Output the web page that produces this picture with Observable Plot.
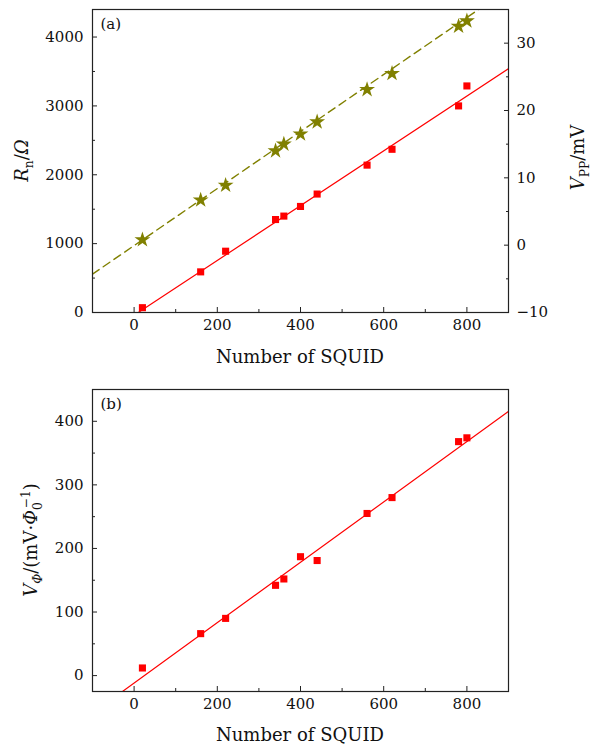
<!DOCTYPE html>
<html><head><meta charset="utf-8">
<script src="https://cdn.jsdelivr.net/npm/d3@7"></script>
<script src="https://cdn.jsdelivr.net/npm/@observablehq/plot@0.6"></script>
<style>
body{margin:0;background:#fff;}
#c svg{display:block;}
</style></head><body><div id="c"></div>
<script>
// ---- data ----
const nSquid = [20, 160, 220, 340, 360, 400, 440, 560, 620, 780, 800];
const rn     = [70, 590, 890, 1350, 1400, 1540, 1720, 2140, 2370, 3000, 3290];   // Ω
const vpp    = [0.8, 6.7, 8.9, 14.0, 15.0, 16.5, 18.3, 23.1, 25.5, 32.5, 33.3]; // mV
const vphi   = [12, 66, 90, 142, 152, 187, 181, 255, 280, 368, 374];           // mV/Φ0
// fitted lines (end points)
const rnFitX = [10, 900],    rnFitY = [0, 3540];
const vppFitX = [-100, 900], vppFitY = [-4.3, 38.05];
const vphiFitX = [-100, 900], vphiFitY = [-59.2, 415.6];
// ticks
const xTicks = [0, 200, 400, 600, 800], xMinor = [-100, 100, 300, 500, 700];
const rnTicks = [0, 1000, 2000, 3000, 4000], rnMinor = [500, 1500, 2500, 3500];
const vppTicks = [-10, 0, 10, 20, 30], vppMinor = [-5, 5, 15, 25];
const vphiTicks = [0, 100, 200, 300, 400], vphiMinor = [50, 150, 250, 350];
const rnDomain = [0, 4400], vppDomain = [-10, 35], vphiDomain = [-25, 450], xDomain = [-100, 900];

const toLeft = v => (v - vppDomain[0]) * (rnDomain[1] - rnDomain[0]) / (vppDomain[1] - vppDomain[0]) + rnDomain[0];
const fromLeft = r => (r - rnDomain[0]) * (vppDomain[1] - vppDomain[0]) / (rnDomain[1] - rnDomain[0]) + vppDomain[0];
const fmt = d => { const r = Math.round(d); return r < 0 ? "\u2212" + Math.abs(r) : String(r); };
const none = () => "";

const RED = "#ff0000", OLIVE = "#808000", INK = "#222";
const FONT = "DejaVu Serif";

const ptsA = nSquid.map((n, i) => ({n, rn: rn[i], vpp: vpp[i]}));
const ptsB = nSquid.map((n, i) => ({n, v: vphi[i]}));
const fitA1 = rnFitX.map((x, i) => ({x, y: rnFitY[i]}));
const fitA2 = vppFitX.map((x, i) => ({x, y: toLeft(vppFitY[i])}));
const fitB = vphiFitX.map((x, i) => ({x, y: vphiFitY[i]}));

function xAxes() {
  return [
    Plot.axisX(xTicks, {tickSize: -5, tickPadding: 12, tickFormat: fmt, label: null, fontSize: 15, fill: "#111", stroke: INK}),
    Plot.axisX(xMinor, {tickSize: -3, tickFormat: none, label: null, stroke: INK})
  ];
}

const chartA = Plot.plot({
  width: 593, height: 372,
  marginTop: 9, marginBottom: 60, marginLeft: 92, marginRight: 85,
  style: {fontFamily: FONT, fontSize: "15px", color: "#111", background: "#fff"},
  x: {domain: xDomain},
  y: {domain: rnDomain},
  marks: [
    Plot.line(fitA2, {x: "x", y: "y", stroke: OLIVE, strokeWidth: 1.4, strokeDasharray: "8,5", clip: true}),
    Plot.line(fitA1, {x: "x", y: "y", stroke: RED, strokeWidth: 1.2, clip: true}),
    Plot.dot(ptsA, {x: "n", y: "rn", symbol: "square", r: 4, fill: RED, stroke: "none"}),
    Plot.dot(ptsA, {x: "n", y: d => toLeft(d.vpp), symbol: "star", r: 5, fill: OLIVE, stroke: "none"}),
    ...xAxes(),
    Plot.axisY(rnTicks, {anchor: "left", tickSize: -5, tickPadding: 14, tickFormat: fmt, label: null, fontSize: 15, fill: "#111", stroke: INK}),
    Plot.axisY(rnMinor, {anchor: "left", tickSize: -3, tickFormat: none, label: null, stroke: INK}),
    Plot.axisY(vppTicks.map(toLeft), {anchor: "right", tickSize: -5, tickPadding: 13, tickFormat: d => fmt(fromLeft(d)), label: null, fontSize: 15, fill: "#111", stroke: INK}),
    Plot.axisY(vppMinor.map(toLeft), {anchor: "right", tickSize: -3, tickFormat: none, label: null, stroke: INK}),
    Plot.frame({stroke: INK, strokeWidth: 1.2}),
    Plot.text(["(a)"], {frameAnchor: "top-left", dx: 8, dy: 9, textAnchor: "start", lineAnchor: "top", fontSize: 15, fill: "#111"})
  ]
});

const chartB = Plot.plot({
  width: 593, height: 372,
  marginTop: 17, marginBottom: 53, marginLeft: 92, marginRight: 85,
  style: {fontFamily: FONT, fontSize: "15px", color: "#111", background: "#fff"},
  x: {domain: xDomain},
  y: {domain: vphiDomain},
  marks: [
    Plot.line(fitB, {x: "x", y: "y", stroke: RED, strokeWidth: 1.2, clip: true}),
    Plot.dot(ptsB, {x: "n", y: "v", symbol: "square", r: 4, fill: RED, stroke: "none"}),
    ...xAxes(),
    Plot.axisY(vphiTicks, {anchor: "left", tickSize: -5, tickPadding: 14, tickFormat: fmt, label: null, fontSize: 15, fill: "#111", stroke: INK}),
    Plot.axisY(vphiMinor, {anchor: "left", tickSize: -3, tickFormat: none, label: null, stroke: INK}),
    Plot.frame({stroke: INK, strokeWidth: 1.2}),
    Plot.text(["(b)"], {frameAnchor: "top-left", dx: 8, dy: 9, textAnchor: "start", lineAnchor: "top", fontSize: 15, fill: "#111"})
  ]
});

// ---- axis titles with italics / sub- and superscripts ----
function addText(svg, x, y, rotate, parts, size) {
  const t = d3.select(svg).append("text")
    .attr("transform", `translate(${x},${y})` + (rotate ? ` rotate(${rotate})` : ""))
    .attr("text-anchor", "middle")
    .attr("font-family", FONT).attr("font-size", size).attr("fill", "#111");
  let shift = 0;
  for (const p of parts) {
    const s = t.append("tspan").text(p.t);
    if (p.i) s.attr("font-style", "italic");
    const target = p.sub ? size * 0.3 : p.sup ? -size * 0.4 : 0;
    if (target !== shift) { s.attr("dy", target - shift); shift = target; }
    if (p.sub || p.sup) s.attr("font-size", size * 0.68);
    if (p.dx) s.attr("dx", p.dx);
  }
}

function decorate(chart, xLabelGap) {
  const xs = chart.scale("x").range, ys = chart.scale("y").range;
  addText(chart, (xs[0] + xs[1]) / 2, ys[0] + xLabelGap, 0, [{t: "Number of SQUID"}], 18);
  return {xs, ys};
}

const ga = decorate(chartA, 51);
const cyA = (ga.ys[0] + ga.ys[1]) / 2;
addText(chartA, 28, cyA, -90, [{t: "R", i: true}, {t: "n", sub: true}, {t: "/"}, {t: "Ω", i: true}], 18);
addText(chartA, 584, cyA - 3, -90, [{t: "V", i: true}, {t: "PP", sub: true}, {t: "/mV"}], 18);

const gb = decorate(chartB, 50);
const cyB = (gb.ys[0] + gb.ys[1]) / 2;
addText(chartB, 37, cyB, -90, [
  {t: "V", i: true}, {t: "Φ", i: true, sub: true}, {t: "/(mV·"}, {t: "Φ", i: true},
  {t: "0", sub: true}, {t: "−1", sup: true, dx: -6}, {t: ")"}], 18);

document.getElementById("c").append(chartA, chartB);
</script></body></html>
